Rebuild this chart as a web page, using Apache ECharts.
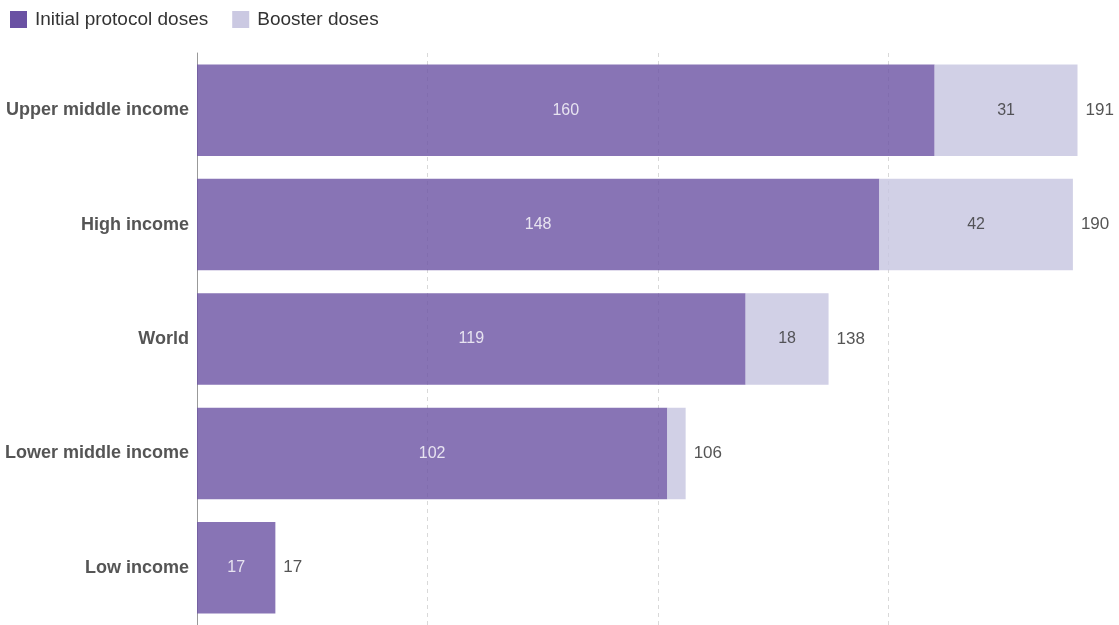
<!DOCTYPE html>
<html>
<head>
<meta charset="utf-8">
<script src="https://cdn.jsdelivr.net/npm/echarts@6/dist/echarts.min.js"></script>
<style>
  html, body { margin: 0; padding: 0; background: #fff; }
  #chart { width: 1119px; height: 625px; }
</style>
</head>
<body>
<div id="chart"></div>
<script>
// Vaccine doses administered per 100 people, by income group
const categories = ['Upper middle income', 'High income', 'World', 'Lower middle income', 'Low income'];
const initialDoses = [160, 148, 119, 102, 17];
const boosterDoses = [31, 42, 18, 4, 0];
const totals = [191, 190, 138, 106, 17];

const chart = echarts.init(document.getElementById('chart'));
const font = 'Liberation Sans, Arial, sans-serif';

chart.setOption({
  animation: false,
  textStyle: { fontFamily: font },
  legend: {
    left: 5,
    top: 5,
    icon: 'rect',
    itemWidth: 17,
    itemHeight: 17,
    itemGap: 24,
    data: [
      { name: 'Initial protocol doses', itemStyle: { color: '#6a51a3', opacity: 1 } },
      { name: 'Booster doses', itemStyle: { color: '#cbc9e2', opacity: 1 } }
    ],
    textStyle: { fontSize: 19, color: '#333', fontFamily: font, padding: [0, 0, 0, 3] }
  },
  grid: { left: 197, right: -2, top: 53, bottom: 0, containLabel: false },
  xAxis: {
    type: 'value',
    min: 0,
    max: 200,
    interval: 50,
    axisLabel: { show: false },
    axisLine: { show: false },
    axisTick: { show: false },
    splitLine: { show: true, lineStyle: { color: '#d9d9d9', type: [4, 4] } }
  },
  yAxis: {
    type: 'category',
    inverse: true,
    data: categories,
    axisLine: { show: true, lineStyle: { color: '#999', width: 1 } },
    axisTick: { show: false },
    axisLabel: { fontSize: 18, fontWeight: 'bold', color: '#555', margin: 8, fontFamily: font }
  },
  series: [
    {
      name: 'Initial protocol doses',
      type: 'bar',
      stack: 'doses',
      barCategoryGap: '20%',
      data: initialDoses,
      itemStyle: { color: '#6a51a3', opacity: 0.8 },
      label: { show: true, position: 'inside', color: '#fff', fontSize: 16, fontFamily: font }
    },
    {
      name: 'Booster doses',
      type: 'bar',
      stack: 'doses',
      data: boosterDoses,
      itemStyle: { color: '#c6c4e0', opacity: 0.8 },
      label: {
        show: true,
        position: 'inside',
        color: '#333',
        fontSize: 16,
        fontFamily: font,
        formatter: p => (p.value >= 10 ? p.value : '')
      }
    },
    {
      name: 'Total',
      type: 'bar',
      stack: 'doses',
      data: totals.map(() => 0),
      itemStyle: { color: 'transparent' },
      label: {
        show: true,
        position: 'right',
        distance: 8,
        color: '#555',
        fontSize: 17,
        fontFamily: font,
        formatter: p => totals[p.dataIndex]
      }
    }
  ]
});
</script>
</body>
</html>
